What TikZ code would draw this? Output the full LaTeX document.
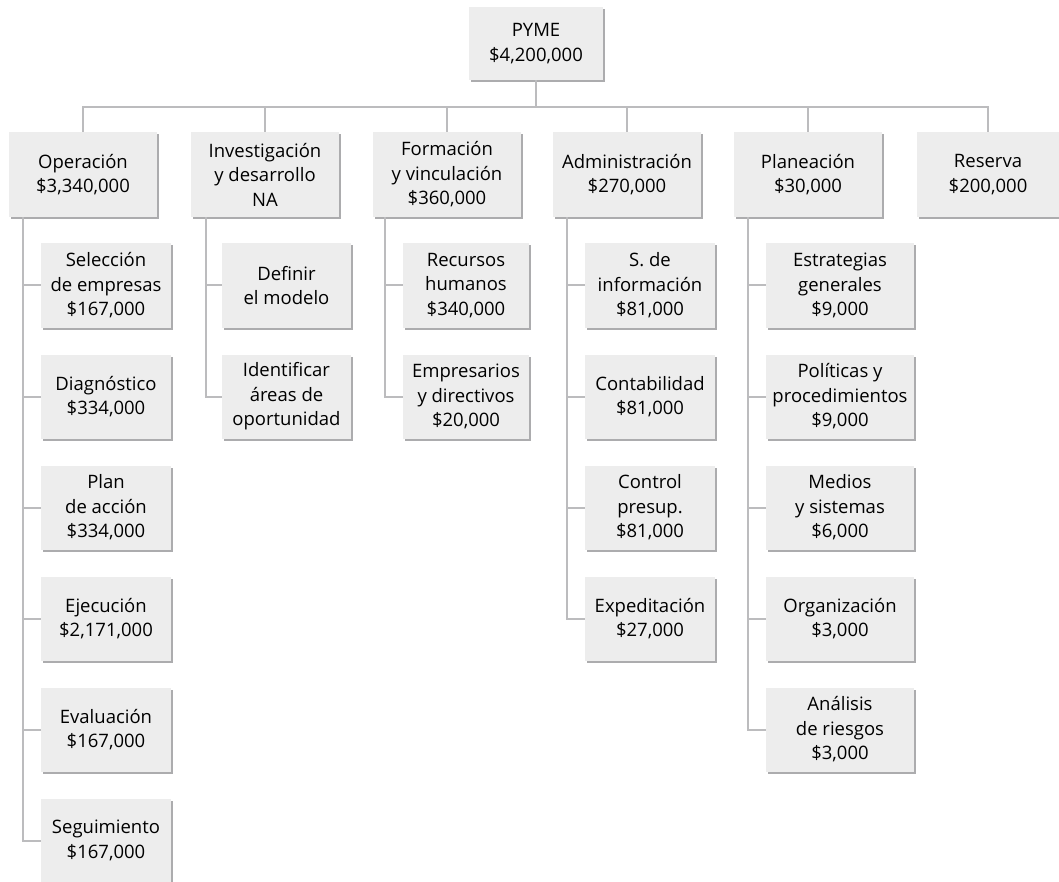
\documentclass[tikz,border=0pt]{standalone}
\usepackage{fontspec}
\setmainfont{Open Sans}
\usetikzlibrary{shadows}
\definecolor{boxc}{RGB}{237,237,237}
\definecolor{shadc}{RGB}{172,172,174}
\definecolor{linec}{RGB}{188,188,190}
\tikzset{
  box/.style={fill=boxc, drop shadow={shadow xshift=2pt, shadow yshift=-2pt, fill=shadc, opacity=1},
    align=center, inner sep=0pt, font=\fontsize{18.5}{24.5}\selectfont, text=black},
  lvla/.style={box, minimum width=148pt, minimum height=85pt},
  lvlb/.style={box, minimum height=84pt},
  conn/.style={draw=linec, line width=2pt},
}
\begin{document}
\begin{tikzpicture}[x=1pt,y=-1pt]
\useasboundingbox (0,0) rectangle (1059,882);
\coordinate (bus) at (536,107);
% level 0
\node[box, minimum width=134pt, minimum height=73pt] (pyme) at (536,43.5) {PYME\\\$4,200,000};
% level 1
\node[lvla] (op)  at (83,174.5)  {Operación\\\$3,340,000};
\node[lvla] (inv) at (265,174.5) {Investigación\\y desarrollo\\NA};
\node[lvla] (for) at (447,174.5) {Formación\\y vinculación\\\$360,000};
\node[lvla] (adm) at (627,174.5) {Administración\\\$270,000};
\node[lvla] (pla) at (808,174.5) {Planeación\\\$30,000};
\node[lvla, minimum width=142pt] (res) at (988,174.5) {Reserva\\\$200,000};
% column 1
\node[lvlb, minimum width=130pt] (a1) at (106,285.5) {Selección\\de empresas\\\$167,000};
\node[lvlb, minimum width=130pt] (a2) at (106,396.5) {Diagnóstico\\\$334,000};
\node[lvlb, minimum width=130pt] (a3) at (106,507.5) {Plan\\de acción\\\$334,000};
\node[lvlb, minimum width=130pt] (a4) at (106,618.5) {Ejecución\\\$2,171,000};
\node[lvlb, minimum width=130pt] (a5) at (106,729.5) {Evaluación\\\$167,000};
\node[lvlb, minimum width=130pt] (a6) at (106,840.5) {Seguimiento\\\$167,000};
% column 2
\node[lvlb, minimum width=129pt] (b1) at (286.5,285.5) {Definir\\el modelo};
\node[lvlb, minimum width=129pt] (b2) at (286.5,396.5) {Identificar\\áreas de\\oportunidad};
% column 3
\node[lvlb, minimum width=126pt] (c1) at (466,285.5) {Recursos\\humanos\\\$340,000};
\node[lvlb, minimum width=126pt] (c2) at (466,396.5) {Empresarios\\y directivos\\\$20,000};
% column 4
\node[lvlb, minimum width=130pt] (d1) at (650,285.5) {S. de\\información\\\$81,000};
\node[lvlb, minimum width=130pt] (d2) at (650,396.5) {Contabilidad\\\$81,000};
\node[lvlb, minimum width=130pt] (d3) at (650,507.5) {Control\\presup.\\\$81,000};
\node[lvlb, minimum width=130pt] (d4) at (650,618.5) {Expeditación\\\$27,000};
% column 5
\node[lvlb, minimum width=148pt] (e1) at (840,285.5) {Estrategias\\generales\\\$9,000};
\node[lvlb, minimum width=148pt] (e2) at (840,396.5) {Políticas y\\procedimientos\\\$9,000};
\node[lvlb, minimum width=148pt] (e3) at (840,507.5) {Medios\\y sistemas\\\$6,000};
\node[lvlb, minimum width=148pt] (e4) at (840,618.5) {Organización\\\$3,000};
\node[lvlb, minimum width=148pt] (e5) at (840,729.5) {Análisis\\de riesgos\\\$3,000};
% top connectors
\draw[conn] (pyme.south) -- (bus);
\draw[conn] (op.north) -- (op.north |- bus) -- (res.north |- bus) -- (res.north);
\foreach \n in {inv,for,adm,pla} \draw[conn] (\n.north) -- (\n.north |- bus);
% child connectors
\coordinate (opx) at ([xshift=14pt]op.south west);
\coordinate (invx) at ([xshift=15pt]inv.south west);
\coordinate (forx) at ([xshift=12pt]for.south west);
\coordinate (admx) at ([xshift=14pt]adm.south west);
\coordinate (plax) at ([xshift=14pt]pla.south west);
\foreach \c in {a1,a2,a3,a4,a5,a6} \draw[conn] (opx) |- (\c.west);
\foreach \c in {b1,b2} \draw[conn] (invx) |- (\c.west);
\foreach \c in {c1,c2} \draw[conn] (forx) |- (\c.west);
\foreach \c in {d1,d2,d3,d4} \draw[conn] (admx) |- (\c.west);
\foreach \c in {e1,e2,e3,e4,e5} \draw[conn] (plax) |- (\c.west);
\end{tikzpicture}
\end{document}
